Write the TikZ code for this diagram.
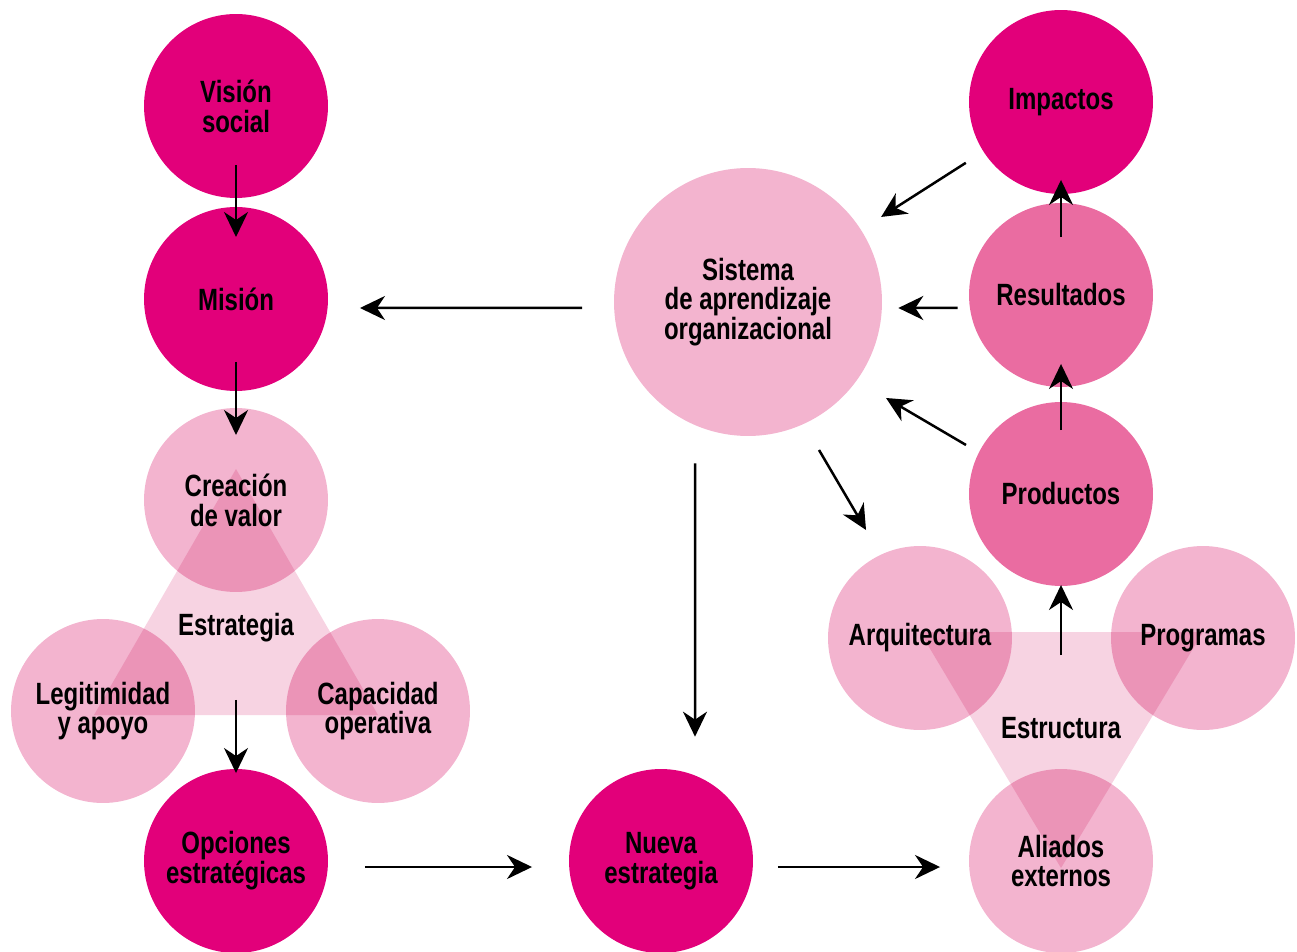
\documentclass[tikz,border=0pt]{standalone}
\usepackage{fontspec}
\setmainfont{Liberation Sans}[FakeStretch=0.78]
\usepackage{tikz}
\usetikzlibrary{arrows.meta}
\definecolor{mg}{RGB}{226,0,122}
\definecolor{md}{RGB}{234,108,161}
\definecolor{lt}{RGB}{243,180,207}
\definecolor{tr}{RGB}{247,211,226}
\def\chico{3.68cm}
\def\grande{5.36cm}
\newcommand{\lbl}{\fontsize{17.5}{17}\selectfont\bfseries}
\newcommand{\bola}[5]{\node[circle,inner sep=0cm,align=center,font=\lbl,#4] (#3) at (#1,#2) {#5};}
\tikzset{
	fuerte/.style={fill=mg,minimum size=\chico},
	medio/.style={fill=md,minimum size=\chico},
	claro/.style={fill=lt,minimum size=\chico,blend mode=multiply},
	flecha/.style={-{Stealth[length=0.5cm,width=0.48cm,inset=0.16cm]},line width=0.05cm},
	rotulo/.style={font=\lbl,inner sep=0cm}
}

\begin{document}
\begin{tikzpicture}[x=0.02cm,y=-0.02cm]
\useasboundingbox (0,0) rectangle (1297,952);

% triangulos
\fill[tr] (236,469) -- (94,715) -- (378,715) -- cycle;
\fill[tr] (920,632) -- (1203,632) -- (1061,868) -- cycle;

% columna izquierda
\bola{236}{106}{vision}{fuerte}{Visión\\social}
\bola{236}{299}{mision}{fuerte}{Misión}
\bola{236}{500}{creacion}{claro}{Creación\\de valor}
\bola{103}{711}{legitimidad}{claro}{Legitimidad\\y apoyo}
\bola{378}{711}{capacidad}{claro}{Capacidad\\operativa}
\bola{236}{861}{opciones}{fuerte}{Opciones\\estratégicas}
\node[rotulo] (estrategia) at (236,628) {Estrategia};

% centro
\bola{748}{302}{sistema}{claro,minimum size=\grande}{Sistema\\de aprendizaje\\organizacional}
\bola{661}{861}{nueva}{fuerte}{Nueva\\estrategia}

% columna derecha
\bola{1061}{102}{impactos}{fuerte}{Impactos}
\bola{1061}{295}{resultados}{medio}{Resultados}
\bola{1061}{494}{productos}{medio}{Productos}
\bola{920}{638}{arquitectura}{claro}{Arquitectura}
\bola{1203}{638}{programas}{claro}{Programas}
\bola{1061}{861}{aliados}{claro}{Aliados\\externos}
\node[rotulo] (estructura) at (1061,728) {Estructura};

\draw[flecha,shorten <=1.18cm,shorten >=1.24cm] (vision.center) -- (mision.center);
\draw[flecha,shorten <=1.26cm,shorten >=1.30cm] (mision.center) -- (creacion.center);
\draw[flecha,shorten <=1.44cm,shorten >=1.76cm] (estrategia.center) -- (opciones.center);
\draw[flecha,shorten <=2.58cm,shorten >=2.58cm] ([yshift=-0.12cm]opciones.center) -- ([yshift=-0.12cm]nueva.center);
\draw[flecha,shorten <=2.34cm,shorten >=2.42cm] ([yshift=-0.12cm]nueva.center) -- ([yshift=-0.12cm]aliados.center);
\draw[flecha,shorten <=3.32cm,shorten >=2.48cm] ([yshift=-0.12cm]sistema.center) -- ([yshift=-0.18cm]mision.center);
\draw[flecha] ([xshift=-1.06cm,yshift=-0.54cm]sistema.south) -- ([xshift=0.68cm,yshift=0.64cm]nueva.north);
\draw[flecha] ([xshift=1.42cm,yshift=-2.96cm]sistema.center) -- ([xshift=-1.08cm,yshift=2.16cm]arquitectura.center);
\draw[flecha] ([xshift=-1.9cm,yshift=0.98cm]productos.center) -- ([xshift=2.76cm,yshift=-1.92cm]sistema.center);
\draw[flecha] ([xshift=-0.22cm,yshift=-0.26cm]resultados.west) -- ([xshift=0.32cm,yshift=-0.12cm]sistema.east);
\draw[flecha,shorten <=2.26cm,shorten >=3.16cm] (impactos.center) -- (sistema.center);
\draw[flecha,shorten <=1.16cm,shorten >=1.56cm] (resultados.center) -- (impactos.center);
\draw[flecha,shorten <=1.28cm,shorten >=1.38cm] (productos.center) -- (resultados.center);
\draw[flecha,shorten <=1.46cm,shorten >=1.82cm] (estructura.center) -- (productos.center);
\end{tikzpicture}
\end{document}
